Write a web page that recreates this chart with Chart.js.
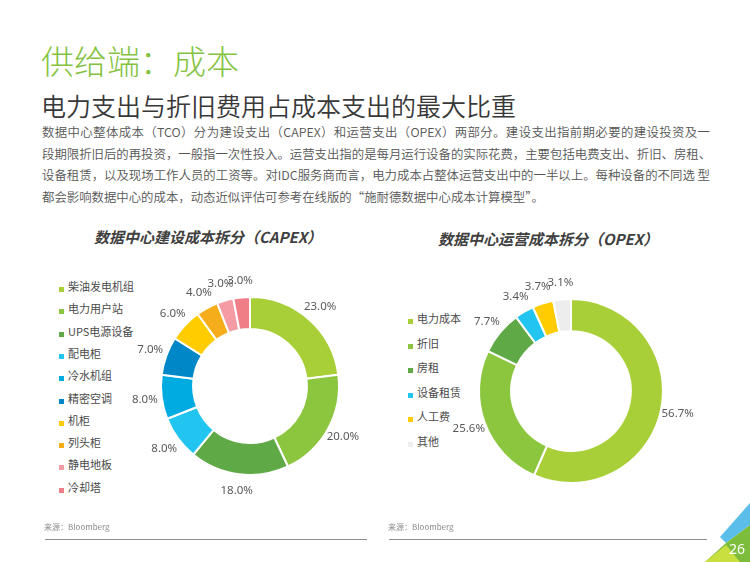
<!DOCTYPE html>
<html>
<head>
<meta charset="utf-8">
<script src="https://cdn.jsdelivr.net/npm/chart.js@4.4.1/dist/chart.umd.min.js"></script>
<style>
  html, body { margin: 0; padding: 0; background: #fff; }
  body { width: 750px; height: 562px; position: relative; overflow: hidden;
         font-family: "Noto Sans", "Noto Sans CJK SC", sans-serif; }
  .abs { position: absolute; }
  .head { left: 41px; top: 38px; font-size: 33px; color: #84c341; line-height: 44px; font-weight: 300;
          font-family: "Noto Sans CJK SC", sans-serif; }
  .sub { left: 41px; top: 88px; font-size: 25px; color: #383838; line-height: 34px; font-weight: 350;
         font-family: "Noto Sans CJK SC", sans-serif; }
  .para { left: 42px; top: 122px; width: 668px; font-size: 12.4px; color: #555; font-weight: 350;
          font-family: "Noto Sans CJK SC", sans-serif; }
  .para div { line-height: 21.5px; height: 21.5px; white-space: nowrap; }
  .para .j { text-align: justify; text-align-last: justify; }
  .ctitle { font-size: 15px; font-weight: bold; font-style: italic; color: #404040;
            font-family: "Noto Sans CJK SC", sans-serif; white-space: nowrap; }
  .legend { font-size: 11px; color: #4a4a4a; font-family: "Noto Sans CJK SC", sans-serif; }
  .legend div { position: absolute; left: 0; white-space: nowrap; }
  .legend span { display: inline-block; width: 5px; height: 5px; margin-right: 4px;
                 vertical-align: -1px; }
  .src { font-size: 8px; color: #8a8a8a; font-family: "Noto Sans CJK SC", sans-serif; }
  .rule { height: 1px; background: #8c8c8c; }
  canvas { display: block; }
</style>
</head>
<body>
<div class="abs head">供给端：成本</div>
<div class="abs sub">电力支出与折旧费用占成本支出的最大比重</div>
<div class="abs para">
  <div class="j">数据中心整体成本（TCO）分为建设支出（CAPEX）和运营支出（OPEX）两部分。建设支出指前期必要的建设投资及一</div>
  <div class="j">段期限折旧后的再投资，一般指一次性投入。运营支出指的是每月运行设备的实际花费，主要包括电费支出、折旧、房租、</div>
  <div class="j">设备租赁，以及现场工作人员的工资等。对IDC服务商而言，电力成本占整体运营支出中的一半以上。每种设备的不同选 型</div>
  <div>都会影响数据中心的成本，动态近似评估可参考在线版的“施耐德数据中心成本计算模型”。</div>
</div>

<div class="abs ctitle" style="left:94px; top:226px;">数据中心建设成本拆分（CAPEX）</div>
<div class="abs ctitle" style="left:438px; top:228px;">数据中心运营成本拆分（OPEX）</div>

<div class="abs legend" id="legCapex" style="left:59px; top:278px;"></div>
<div class="abs legend" id="legOpex" style="left:408px; top:310px;"></div>

<div class="abs" style="left:100px; top:236px; width:300px; height:300px;">
  <canvas id="capex" width="300" height="300"></canvas>
</div>
<div class="abs" style="left:421px; top:241px; width:300px; height:300px;">
  <canvas id="opex" width="300" height="300"></canvas>
</div>

<div class="abs src" style="left:44px; top:521px;">来源：Bloomberg</div>
<div class="abs rule" style="left:45px; top:539px; width:322px;"></div>
<div class="abs src" style="left:388px; top:521px;">来源：Bloomberg</div>
<div class="abs rule" style="left:389px; top:539px; width:318px;"></div>

<svg class="abs" style="left:0; top:0;" width="750" height="562">
  <polygon points="750,503 750,525 726,543 720,537" fill="#5bbde9"/>
  <polygon points="750,525 750,562 705,562 726,543" fill="#7dbd3c"/>
  <polygon points="705,562 726,545 740,562" fill="#c8df3e"/>
  <text x="729" y="554" font-size="14" fill="#fff" font-family="Noto Sans, sans-serif">26</text>
</svg>

<script>
// CAPEX data
const capexLabels = ["柴油发电机组", "电力用户站", "UPS电源设备", "配电柜", "冷水机组", "精密空调", "机柜", "列头柜", "静电地板", "冷却塔"];
const capexValues = [23.0, 20.0, 18.0, 8.0, 8.0, 7.0, 6.0, 4.0, 3.0, 3.0];
const capexColors = ["#a9cf38", "#8cc63f", "#5faa46", "#22c4f0", "#00abe1", "#0087c8", "#ffcc00", "#f6ad1b", "#f59ba3", "#f07e86"];

// OPEX data
const opexLabels = ["电力成本", "折旧", "房租", "设备租赁", "人工费", "其他"];
const opexValues = [56.7, 25.6, 7.7, 3.4, 3.7, 3.1];
const opexColors = ["#a9cf38", "#8cc63f", "#5faa46", "#22c4f0", "#ffcc00", "#ededed"];

// html legends
function buildLegend(id, labels, colors, gap) {
  const box = document.getElementById(id);
  labels.forEach((lab, i) => {
    const row = document.createElement("div");
    row.style.top = (i * gap) + "px";
    row.innerHTML = '<span style="background:' + colors[i] + '"></span>' + lab;
    box.appendChild(row);
  });
}
buildLegend("legCapex", capexLabels, capexColors, 22.3);
buildLegend("legOpex", opexLabels, opexColors, 24.5);

// percent labels outside each slice
const outsideLabels = {
  id: "outsideLabels",
  afterDatasetsDraw(chart) {
    const ctx = chart.ctx;
    const meta = chart.getDatasetMeta(0);
    const values = chart.data.datasets[0].data;
    ctx.save();
    ctx.font = "11.5px 'Noto Sans', sans-serif";
    ctx.fillStyle = "#595959";
    ctx.textAlign = "center";
    ctx.textBaseline = "middle";
    meta.data.forEach((arc, i) => {
      const p = arc.getProps(["x", "y", "startAngle", "endAngle", "outerRadius"], true);
      const mid = (p.startAngle + p.endAngle) / 2;
      const d = p.outerRadius + 17;
      ctx.fillText(values[i].toFixed(1) + "%", p.x + Math.cos(mid) * d, p.y + Math.sin(mid) * d);
    });
    ctx.restore();
  },
};

function makeDonut(id, labels, values, colors, pad, cut) {
  return new Chart(document.getElementById(id), {
    type: "doughnut",
    data: {
      labels: labels,
      datasets: [
        {
          data: values,
          backgroundColor: colors,
          borderColor: "#ffffff",
          borderWidth: 2,
        },
      ],
    },
    options: {
      responsive: false,
      animation: false,
      cutout: cut,
      layout: { padding: pad },
      plugins: {
        legend: { display: false },
        tooltip: { enabled: false },
      },
    },
    plugins: [outsideLabels],
  });
}

makeDonut("capex", capexLabels, capexValues, capexColors, 60, "64%");
makeDonut("opex", opexLabels, opexValues, opexColors, 57, "65%");
</script>
</body>
</html>
